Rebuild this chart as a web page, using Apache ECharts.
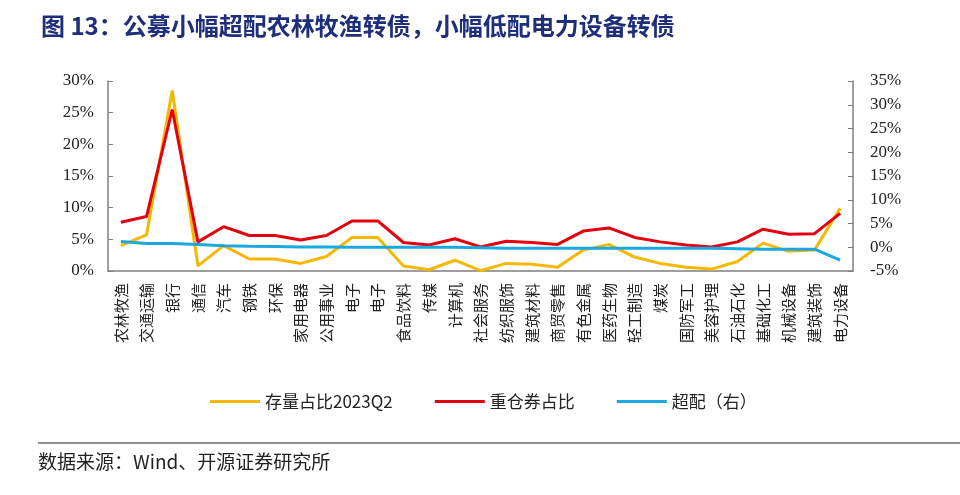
<!DOCTYPE html>
<html>
<head>
<meta charset="utf-8">
<script src="https://cdn.jsdelivr.net/npm/echarts@6/dist/echarts.min.js"></script>
<style>html,body{margin:0;padding:0;background:#fff}#c{width:960px;height:495px}</style>
</head>
<body>
<div id="c"></div>
<script>
const categories = ['农林牧渔','交通运输','银行','通信','汽车','钢铁','环保','家用电器','公用事业','电子','电子','食品饮料','传媒','计算机','社会服务','纺织服饰','建筑材料','商贸零售','有色金属','医药生物','轻工制造','煤炭','国防军工','美容护理','石油石化','基础化工','机械设备','建筑装饰','电力设备'];
const stockShare = [4.0,5.7,28.5,0.8,4.0,1.9,1.9,1.2,2.3,5.3,5.3,0.8,0.2,1.7,0.05,1.2,1.05,0.6,3.3,4.2,2.2,1.2,0.6,0.3,1.5,4.4,3.1,3.3,9.9];
const heavyShare = [7.7,8.6,25.5,4.6,7.0,5.6,5.6,4.9,5.6,7.9,7.9,4.5,4.1,5.1,3.8,4.7,4.5,4.2,6.3,6.8,5.3,4.6,4.1,3.8,4.6,6.6,5.8,5.9,9.1];
const overweight = [1.2,0.8,0.8,0.6,0.3,0.2,0.15,0.07,0.07,0.0,0.0,0.0,0.0,0.0,-0.1,-0.2,-0.2,-0.2,-0.2,-0.2,-0.2,-0.2,-0.2,-0.2,-0.3,-0.4,-0.4,-0.4,-2.7];
const leftTicks = {min:0,max:30,interval:5};
const rightTicks = {min:-5,max:35,interval:5};

const chart = echarts.init(document.getElementById('c'));
const serif = '"Liberation Serif","DejaVu Serif",serif';
const cjk = '"Noto Sans CJK SC","Liberation Serif",serif';
const axisColor = '#7f7f7f';
chart.setOption({
  animation:false,
  title:{text:'图 13：公募小幅超配农林牧渔转债，小幅低配电力设备转债',left:36,top:9,
    textStyle:{color:'#1f2e7a',fontSize:24,fontWeight:'bold',fontFamily:cjk}},
  legend:{bottom:80,left:205,itemWidth:50,itemHeight:3,icon:'rect',itemGap:42,
    textStyle:{fontSize:17,color:'#222',fontFamily:cjk},
    data:['存量占比2023Q2','重仓券占比','超配（右）']},
  grid:{left:108,right:107,top:81,bottom:224},
  xAxis:{type:'category',data:categories,boundaryGap:true,
    axisLine:{lineStyle:{color:axisColor,width:1.5}},
    axisTick:{inside:true,length:6,lineStyle:{color:axisColor}},
    axisLabel:{rotate:90,interval:0,fontSize:15,color:'#222',fontFamily:cjk,margin:12}},
  yAxis:[
    {type:'value',min:leftTicks.min,max:leftTicks.max,interval:leftTicks.interval,splitLine:{show:false},
     axisLine:{show:true,lineStyle:{color:axisColor,width:1.5}},
     axisTick:{show:true,inside:true,length:5,lineStyle:{color:axisColor}},
     axisLabel:{formatter:'{value}%',fontSize:17,color:'#222',fontFamily:serif,margin:14}},
    {type:'value',min:rightTicks.min,max:rightTicks.max,interval:rightTicks.interval,splitLine:{show:false},
     axisLine:{show:true,lineStyle:{color:axisColor,width:1.5}},
     axisTick:{show:true,inside:true,length:5,lineStyle:{color:axisColor}},
     axisLabel:{formatter:'{value}%',fontSize:17,color:'#222',fontFamily:serif,margin:17}}
  ],
  series:[
    {name:'存量占比2023Q2',type:'line',data:stockShare,symbol:'none',yAxisIndex:0,
     lineStyle:{color:'#f5b800',width:3},itemStyle:{color:'#f5b800'},z:2},
    {name:'重仓券占比',type:'line',data:heavyShare,symbol:'none',yAxisIndex:0,
     lineStyle:{color:'#e3000f',width:3},itemStyle:{color:'#e3000f'},z:3},
    {name:'超配（右）',type:'line',data:overweight,symbol:'none',yAxisIndex:1,
     lineStyle:{color:'#1aa8e0',width:3},itemStyle:{color:'#1aa8e0'},z:4}
  ],
  graphic:[
    {type:'line',shape:{x1:38,y1:443,x2:960,y2:443},style:{stroke:'#222',lineWidth:1.2}},
    {type:'text',left:38,top:452,style:{text:'数据来源：Wind、开源证券研究所',fontSize:19,fill:'#222',fontFamily:cjk}}
  ]
});
</script>
</body>
</html>
